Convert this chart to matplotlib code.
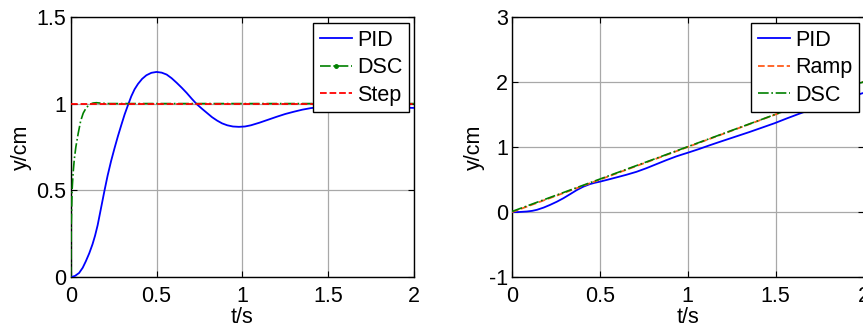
import matplotlib
matplotlib.use("Agg")
import matplotlib.pyplot as plt
from matplotlib.lines import Line2D

# ---------------- data ----------------
# Left panel: step response
t_pid_step = [0, 0.025, 0.049, 0.07, 0.088, 0.108, 0.127, 0.142, 0.157, 0.176, 0.196,
              0.215, 0.235, 0.255, 0.275, 0.295, 0.314, 0.334, 0.353, 0.372, 0.392,
              0.416, 0.441, 0.47, 0.5, 0.53, 0.559, 0.588, 0.618, 0.647, 0.676, 0.705,
              0.735, 0.765, 0.794, 0.823, 0.853, 0.882, 0.912, 0.945, 0.98, 1.015,
              1.05, 1.1, 1.15, 1.2, 1.25, 1.3, 1.35, 1.4, 1.45, 1.5, 1.6, 1.7, 1.8,
              1.9, 2.0]
y_pid_step = [0, 0.008, 0.025, 0.055, 0.092, 0.138, 0.19, 0.24, 0.3, 0.395, 0.495,
              0.585, 0.668, 0.742, 0.812, 0.877, 0.937, 0.992, 1.042, 1.082, 1.113,
              1.142, 1.163, 1.177, 1.182, 1.178, 1.167, 1.146, 1.119, 1.091, 1.061,
              1.028, 0.996, 0.97, 0.946, 0.922, 0.902, 0.886, 0.875, 0.868, 0.866,
              0.868, 0.875, 0.89, 0.907, 0.924, 0.94, 0.953, 0.965, 0.974, 0.979,
              0.982, 0.984, 0.982, 0.979, 0.977, 0.975]
t_dsc_step = [0, 0.003, 0.008, 0.014, 0.021, 0.03, 0.044, 0.058, 0.073, 0.09, 0.11,
              0.13, 0.15, 0.18, 0.22, 2.0]
y_dsc_step = [0, 0.3, 0.5, 0.6, 0.68, 0.75, 0.83, 0.9, 0.945, 0.975, 0.995,
              1.003, 1.005, 1.002, 1.0, 1.0]
t_step = [0, 2.0]
y_step = [1.0, 1.0]

# Right panel: ramp response
t_pid_ramp = [0, 0.04, 0.085, 0.115, 0.142, 0.18, 0.217, 0.255, 0.292, 0.33, 0.368,
              0.405, 0.443, 0.47, 0.5, 0.547, 0.594, 0.65, 0.708, 0.765, 0.821, 0.878,
              0.934, 0.967, 1.0, 1.06, 1.123, 1.18, 1.236, 1.293, 1.349, 1.42, 1.494,
              1.56, 1.632, 1.7, 1.77, 1.84, 1.92, 2.0]
y_pid_ramp = [0, 0.002, 0.01, 0.02, 0.036, 0.07, 0.112, 0.16, 0.213, 0.275, 0.338,
              0.39, 0.43, 0.45, 0.468, 0.5, 0.533, 0.573, 0.619, 0.675, 0.736, 0.798,
              0.855, 0.884, 0.912, 0.965, 1.025, 1.077, 1.127, 1.178, 1.228, 1.295, 1.365,
              1.435, 1.508, 1.575, 1.64, 1.7, 1.765, 1.83]
t_ramp = [0, 2.0]
y_ramp = [0, 2.0]
t_dsc_ramp = [0, 2.0]
y_dsc_ramp = [0.01, 2.0]

xticks = [0, 0.5, 1, 1.5, 2]
xticklabels = ["0", "0.5", "1", "1.5", "2"]
yticks_l = [0, 0.5, 1, 1.5]
yticklabels_l = ["0", "0.5", "1", "1.5"]
yticks_r = [-1, 0, 1, 2, 3]
yticklabels_r = ["-1", "0", "1", "2", "3"]

# ---------------- style ----------------
plt.rcParams['font.family'] = ['Liberation Sans', 'DejaVu Sans']
FS = 15.5
BLUE = '#0000FF'
GREEN = '#008000'
RED = '#FF0000'
ORANGE = '#FF5A1A'
GRID = '#a8a8a8'

W, H = 863, 328
fig = plt.figure(figsize=(W / 100, H / 100), dpi=100)

def px_axes(x0, x1, y0, y1):
    return fig.add_axes([x0 / W, 1 - y1 / H, (x1 - x0) / W, (y1 - y0) / H])

axL = px_axes(70.7, 414.0, 16.7, 277.3)
axR = px_axes(512.0, 863.5, 16.7, 277.3)

def style(ax, yt, ytl, ylim):
    ax.set_xlim(0, 2)
    ax.set_ylim(*ylim)
    ax.set_xticks(xticks)
    ax.set_xticklabels(xticklabels)
    ax.set_yticks(yt)
    ax.set_yticklabels(ytl)
    ax.tick_params(direction='in', length=4, width=0.8, labelsize=FS,
                   top=True, right=True, colors='black')
    ax.tick_params(axis='x', pad=6)
    ax.tick_params(axis='y', pad=3)
    ax.grid(True, color=GRID, linewidth=0.9, linestyle='-')
    ax.set_axisbelow(True)
    for s in ax.spines.values():
        s.set_linewidth(1.0)
        s.set_color('black')
    ax.set_xlabel('t/s', fontsize=FS, labelpad=0.5)
    ax.set_ylabel('y/cm', fontsize=FS, labelpad=3)

# Left
style(axL, yticks_l, yticklabels_l, (0, 1.5))
axL.plot(t_pid_step, y_pid_step, color=BLUE, lw=1.3, zorder=3)
axL.plot(t_dsc_step, y_dsc_step, color=GREEN, lw=1.2, ls='-.', zorder=4)
axL.plot(t_step, y_step, color=RED, lw=1.3, ls='--', zorder=5)
hL = [Line2D([], [], color=BLUE, lw=1.3),
      Line2D([], [], color=GREEN, lw=1.2, ls='-.', marker='.', markersize=5, markevery=[1]),
      Line2D([], [], color=RED, lw=1.3, ls='--')]
legL = axL.legend(hL, ['PID', 'DSC', 'Step'], loc='upper right',
                  bbox_to_anchor=(409.3 / W, 1 - 23.3 / H), bbox_transform=fig.transFigure,
                  fontsize=FS, frameon=True, fancybox=False, framealpha=1,
                  edgecolor='black', handlelength=1.5, handletextpad=0.25,
                  labelspacing=0.3, borderpad=0.3, borderaxespad=0)
legL.get_frame().set_linewidth(1.0)

# Right
style(axR, yticks_r, yticklabels_r, (-1, 3))
axR.plot(t_pid_ramp, y_pid_ramp, color=BLUE, lw=1.3, zorder=3)
axR.plot(t_ramp, y_ramp, color=ORANGE, lw=1.3, ls='--', zorder=4)
axR.plot(t_dsc_ramp, y_dsc_ramp, color=GREEN, lw=1.2, ls='-.', zorder=5)
hR = [Line2D([], [], color=BLUE, lw=1.3),
      Line2D([], [], color=ORANGE, lw=1.3, ls='--'),
      Line2D([], [], color=GREEN, lw=1.2, ls='-.')]
legR = axR.legend(hR, ['PID', 'Ramp', 'DSC'], loc='upper right',
                  bbox_to_anchor=(859.3 / W, 1 - 23.3 / H), bbox_transform=fig.transFigure,
                  fontsize=FS, frameon=True, fancybox=False, framealpha=1,
                  edgecolor='black', handlelength=1.5, handletextpad=0.25,
                  labelspacing=0.3, borderpad=0.3, borderaxespad=0)
legR.get_frame().set_linewidth(1.0)

fig.savefig('out.png', dpi=100)
